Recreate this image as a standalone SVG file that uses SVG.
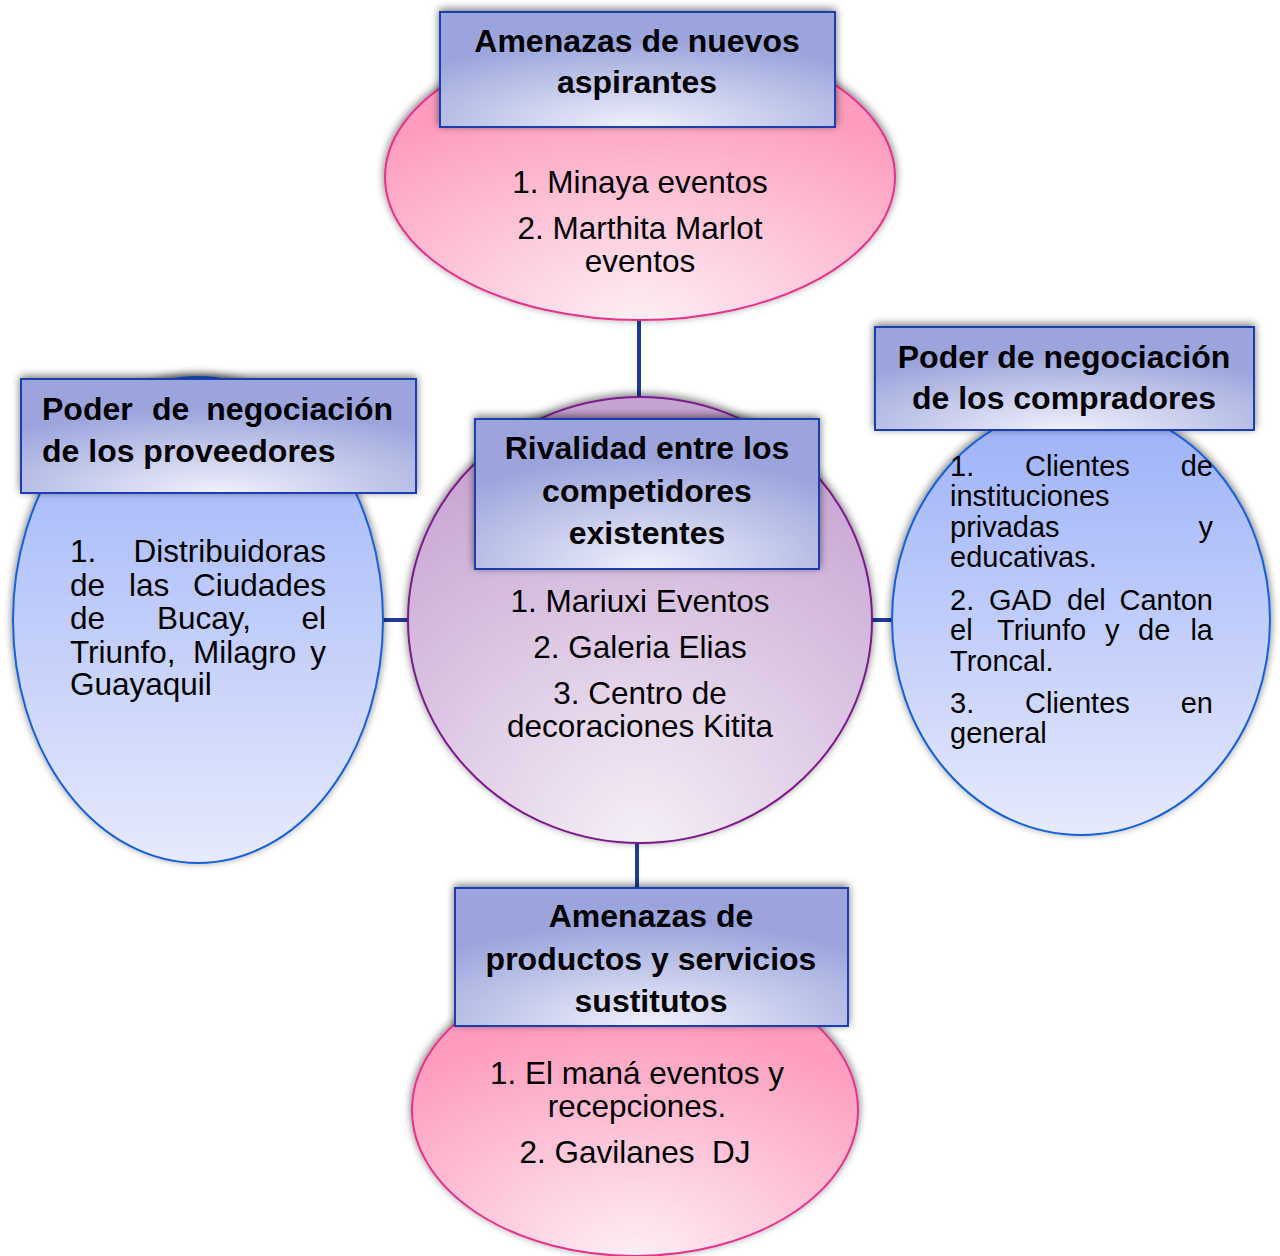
<svg xmlns="http://www.w3.org/2000/svg" width="1280" height="1256" viewBox="0 0 1280 1256">
<defs>
<filter id="sh" x="-20%" y="-20%" width="140%" height="140%">
<feGaussianBlur in="SourceAlpha" stdDeviation="4"/>
<feOffset dx="0" dy="-2" result="b"/>
<feComponentTransfer><feFuncA type="linear" slope="0.55"/></feComponentTransfer>
<feMerge><feMergeNode/><feMergeNode in="SourceGraphic"/></feMerge>
</filter>
<radialGradient id="gBox" cx="50%" cy="100%" r="75%" fx="50%" fy="100%">
<stop offset="0" stop-color="#f0f1fb"/>
<stop offset="1" stop-color="#9ba5dc"/>
</radialGradient>
<radialGradient id="gPink" cx="50%" cy="100%" r="80%" fx="50%" fy="100%">
<stop offset="0" stop-color="#fdeff4"/>
<stop offset="1" stop-color="#fe9cbe"/>
</radialGradient>
<linearGradient id="gBlue" x1="0" y1="0" x2="0" y2="1">
<stop offset="0" stop-color="#9bb0f9"/>
<stop offset="1" stop-color="#e6eafc"/>
</linearGradient>
<radialGradient id="gPurple" cx="50%" cy="100%" r="95%" fx="50%" fy="100%">
<stop offset="0" stop-color="#f5eff7"/>
<stop offset="1" stop-color="#c6a4d1"/>
</radialGradient>
</defs>
<style>
.box{fill:url(#gBox);stroke:#1d3eb0;stroke-width:2}
.pink{fill:url(#gPink);stroke:#e8318a;stroke-width:2}
.blue{fill:url(#gBlue);stroke:#1560d8;stroke-width:2}
.purple{fill:url(#gPurple);stroke:#7c1a8c;stroke-width:2}
.conn{stroke:#1c3d9c;stroke-width:4;fill:none}
.h{font-family:"Liberation Sans",Arial,sans-serif;font-weight:bold;font-size:32px;fill:#000}
.t{font-family:"Liberation Sans",Arial,sans-serif;font-size:31.5px;fill:#000}
.s{font-family:"Liberation Sans",Arial,sans-serif;font-size:29px;fill:#000}
.c{text-anchor:middle}
.e{text-anchor:end}
</style>
<rect width="1280" height="1256" fill="#ffffff"/>
<g id="connectors">
<line class="conn" x1="639" y1="320" x2="639" y2="398"/>
<line class="conn" x1="637" y1="843" x2="637" y2="888"/>
<line class="conn" x1="382" y1="620" x2="408" y2="620"/>
<line class="conn" x1="871" y1="620" x2="893" y2="620"/>
</g>
<g id="node-top">
<ellipse class="pink" cx="640" cy="177" rx="255" ry="143" filter="url(#sh)"/>
<rect class="box" x="440" y="12" width="395" height="115" filter="url(#sh)"/>
<text class="h c" x="637" y="52">Amenazas de nuevos</text>
<text class="h c" x="637" y="93">aspirantes</text>
<text class="t c" x="640" y="193">1. Minaya eventos</text>
<text class="t c" x="640" y="239">2. Marthita Marlot</text>
<text class="t c" x="640" y="272">eventos</text>
</g>
<g id="node-left">
<ellipse class="blue" cx="198" cy="620" rx="185" ry="243" filter="url(#sh)"/>
<rect class="box" x="21" y="379" width="395" height="114" filter="url(#sh)"/>
<text class="h" x="42" y="420">Poder</text>
<text class="h" x="152" y="420">de</text>
<text class="h e" x="393" y="420">negociación</text>
<text class="h" x="42" y="462">de los proveedores</text>
<text class="t" x="70" y="562">1.</text>
<text class="t e" x="326" y="562">Distribuidoras</text>
<text class="t" x="70" y="596">de</text>
<text class="t" x="129" y="596">las</text>
<text class="t e" x="326" y="596">Ciudades</text>
<text class="t" x="70" y="629">de</text>
<text class="t" x="157" y="629">Bucay,</text>
<text class="t e" x="326" y="629">el</text>
<text class="t" x="70" y="663">Triunfo,</text>
<text class="t" x="193" y="663">Milagro</text>
<text class="t e" x="326" y="663">y</text>
<text class="t" x="70" y="695">Guayaquil</text>
</g>
<g id="node-center">
<ellipse class="purple" cx="640" cy="620" rx="232" ry="223" filter="url(#sh)"/>
<rect class="box" x="475" y="419" width="344" height="150" filter="url(#sh)"/>
<text class="h c" x="647" y="459">Rivalidad entre los</text>
<text class="h c" x="647" y="502">competidores</text>
<text class="h c" x="647" y="544">existentes</text>
<text class="t c" x="640" y="612">1. Mariuxi Eventos</text>
<text class="t c" x="640" y="658">2. Galeria Elias</text>
<text class="t c" x="640" y="704">3. Centro de</text>
<text class="t c" x="640" y="737">decoraciones Kitita</text>
</g>
<g id="node-right">
<ellipse class="blue" cx="1081" cy="620" rx="189" ry="215" filter="url(#sh)"/>
<rect class="box" x="875" y="327" width="379" height="103" filter="url(#sh)"/>
<text class="h c" x="1064" y="368">Poder de negociación</text>
<text class="h c" x="1064" y="409">de los compradores</text>
<text class="s" x="950" y="476">1.</text>
<text class="s" x="1025" y="476">Clientes</text>
<text class="s e" x="1213" y="476">de</text>
<text class="s" x="950" y="506">instituciones</text>
<text class="s" x="950" y="537">privadas</text>
<text class="s e" x="1213" y="537">y</text>
<text class="s" x="950" y="567">educativas.</text>
<text class="s" x="950" y="610">2.</text>
<text class="s" x="989" y="610">GAD</text>
<text class="s" x="1067" y="610">del</text>
<text class="s e" x="1213" y="610">Canton</text>
<text class="s" x="950" y="640">el</text>
<text class="s" x="997" y="640">Triunfo</text>
<text class="s" x="1105" y="640">y</text>
<text class="s" x="1138" y="640">de</text>
<text class="s e" x="1213" y="640">la</text>
<text class="s" x="950" y="671">Troncal.</text>
<text class="s" x="950" y="713">3.</text>
<text class="s" x="1025" y="713">Clientes</text>
<text class="s e" x="1213" y="713">en</text>
<text class="s" x="950" y="743">general</text>
</g>
<g id="node-bottom">
<ellipse class="pink" cx="635" cy="1110" rx="223" ry="146" filter="url(#sh)"/>
<rect class="box" x="455" y="888" width="393" height="138" filter="url(#sh)"/>
<text class="h c" x="651" y="927">Amenazas de</text>
<text class="h c" x="651" y="970">productos y servicios</text>
<text class="h c" x="651" y="1012">sustitutos</text>
<text class="t c" x="637" y="1084">1. El maná eventos y</text>
<text class="t c" x="637" y="1117">recepciones.</text>
<text class="t c" x="635" y="1163">2. Gavilanes &#160;DJ</text>
</g>
</svg>
